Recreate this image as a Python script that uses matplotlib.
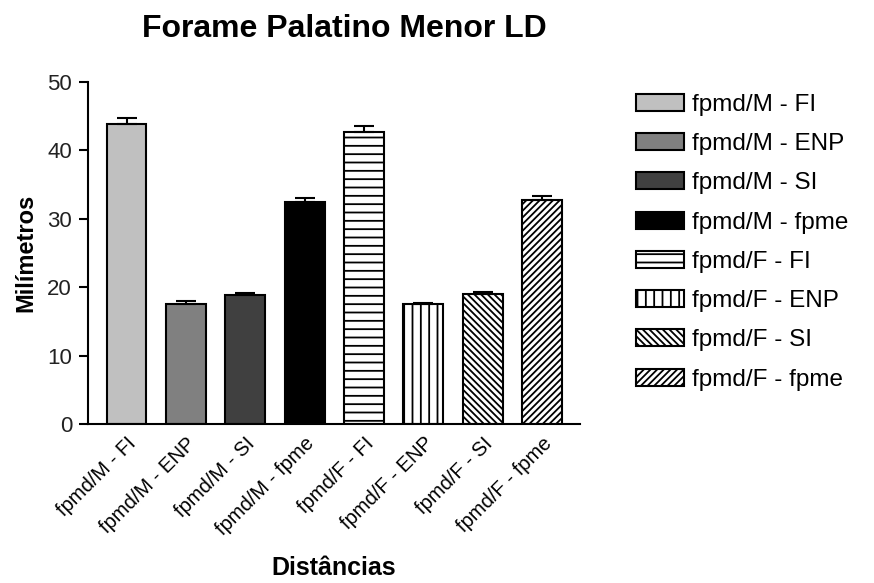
import numpy as np
import matplotlib.pyplot as plt

plt.rcParams['font.family'] = ['Liberation Sans', 'DejaVu Sans']
plt.rcParams['hatch.linewidth'] = 1.3

# medias e erros (mm) de cada distancia
grupos = ['fpmd/M - FI', 'fpmd/M - ENP', 'fpmd/M - SI', 'fpmd/M - fpme',
          'fpmd/F - FI', 'fpmd/F - ENP', 'fpmd/F - SI', 'fpmd/F - fpme']
medias = [43.9, 17.5, 18.8, 32.5, 42.7, 17.5, 19.0, 32.8]
erros = [0.85, 0.55, 0.3, 0.6, 0.9, 0.25, 0.25, 0.5]

cores = ['#c0c0c0', '#808080', '#404040', '#000000',
         'white', 'white', 'white', 'white']
hachuras = [None, None, None, None, '--', '||', '\\' * 5, '/' * 5]

fig = plt.figure(figsize=(8.74, 5.83), dpi=100)
ax = fig.add_axes([88/874, 1 - 424/583, (580 - 88)/874, (424 - 82)/583])

x = np.arange(len(grupos))
barras = []
for i in range(len(grupos)):
    b = ax.bar(x[i], medias[i], width=0.67, color=cores[i], edgecolor='black',
               linewidth=1.5, hatch=hachuras[i], label=grupos[i], zorder=2)
    barras.append(b)
    ax.errorbar(x[i], medias[i], yerr=[[0], [erros[i]]], fmt='none',
                ecolor='black', elinewidth=1.5, capsize=7.5, capthick=1.5, zorder=3)

ax.set_xlim(-0.65, 7.64)
ax.set_ylim(0, 50)
ax.set_yticks([0, 10, 20, 30, 40, 50])
ax.set_xticks(x)
ax.set_xticklabels(grupos, rotation=45, ha='right', rotation_mode='anchor', fontsize=14.5)
ax.tick_params(axis='x', length=0, pad=7)
ax.tick_params(axis='y', length=6.5, width=1.5, labelsize=16, pad=5, colors='#222222')
ax.tick_params(axis='y', color='black')

for s in ['top', 'right']:
    ax.spines[s].set_visible(False)
for s in ['left', 'bottom']:
    ax.spines[s].set_linewidth(1.5)

ax.set_ylabel('Milímetros', fontsize=17, fontweight='bold', labelpad=7)
ax.set_xlabel('Distâncias', fontsize=18, fontweight='bold', labelpad=12)
fig.text(344/874, 1 - 29/583, 'Forame Palatino Menor LD', fontsize=23,
         fontweight='bold', ha='center', va='center')

fig.legend(handles=barras, loc='upper left', bbox_to_anchor=(626/874, 1 - 84/583),
           frameon=False, fontsize=17.5, handlelength=2.0, handleheight=0.7,
           handletextpad=0.3, labelspacing=0.71, borderaxespad=0)

fig.savefig('out.png', dpi=100)
